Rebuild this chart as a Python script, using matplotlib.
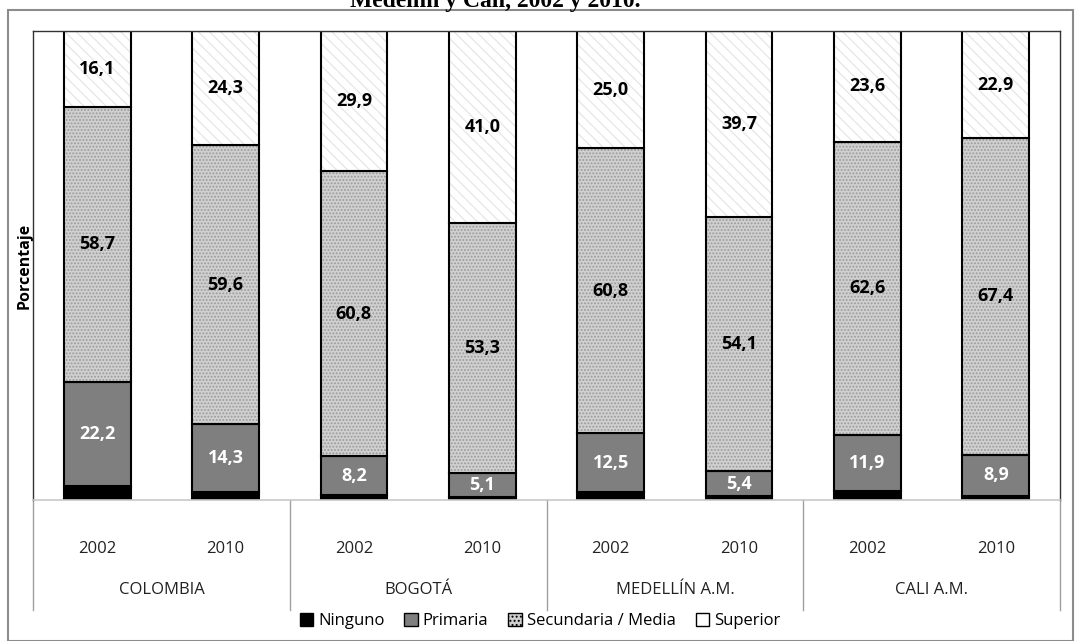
import numpy as np
import matplotlib
matplotlib.use("Agg")
import matplotlib.pyplot as plt
from matplotlib.patches import Rectangle, Patch
from matplotlib.lines import Line2D

groups = ["COLOMBIA", "BOGOTÁ", "MEDELLÍN A.M.", "CALI A.M."]
years = ["2002", "2010"]
ninguno = [3.0, 1.8, 1.1, 0.6, 1.7, 0.8, 1.9, 0.8]
primaria = [22.2, 14.3, 8.2, 5.1, 12.5, 5.4, 11.9, 8.9]
secundaria = [58.7, 59.6, 60.8, 53.3, 60.8, 54.1, 62.6, 67.4]
superior = [16.1, 24.3, 29.9, 41.0, 25.0, 39.7, 23.6, 22.9]
series_names = ["Ninguno", "Primaria", "Secundaria / Media", "Superior"]

plt.rcParams["font.family"] = ["Open Sans", "DejaVu Sans"]
plt.rcParams["hatch.linewidth"] = 0.9

W, H = 1080, 641
fig = plt.figure(figsize=(W / 100, H / 100), dpi=100)
ax = fig.add_axes([33 / W, 1 - 500 / H, (1060 - 33) / W, (500 - 31) / H])

x = np.arange(len(ninguno))
bw = 0.52
bottoms = np.zeros(len(x))
for vals, fc, hatch, hc in [
    (ninguno, "black", None, None),
    (primaria, "#7f7f7f", None, None),
    (secundaria, "#d0d0d0", ".....", "#9a9a9a"),
    (superior, "white", "\\\\\\", "#e6e6e6"),
]:
    vals = np.array(vals)
    if hatch:
        ax.bar(x, vals, bw, bottom=bottoms, color=fc, edgecolor=hc, hatch=hatch, linewidth=0)
        ax.bar(x, vals, bw, bottom=bottoms, fill=False, edgecolor="black", linewidth=1.5)
    else:
        ax.bar(x, vals, bw, bottom=bottoms, color=fc, edgecolor="black", linewidth=1.5)
    bottoms += vals

# data labels
def fmt(v):
    return f"{v:.1f}".replace(".", ",")

base = np.array(ninguno)
for i in x:
    ax.text(i, base[i] + primaria[i] / 2, fmt(primaria[i]),
            ha="center", va="center", color="white", fontsize=13, fontweight="bold")
    b2 = base[i] + primaria[i]
    ax.text(i, b2 + secundaria[i] / 2, fmt(secundaria[i]),
            ha="center", va="center", color="black", fontsize=13, fontweight="bold")
    b3 = b2 + secundaria[i]
    ax.text(i, b3 + superior[i] / 2, fmt(superior[i]),
            ha="center", va="center", color="black", fontsize=13, fontweight="bold")

ax.set_xlim(-0.5, len(x) - 0.5)
ax.set_ylim(0, 100)
ax.set_xticks([])
ax.set_yticks([])
for s in ["left", "top", "right"]:
    ax.spines[s].set_color("#333333")
    ax.spines[s].set_linewidth(1.0)
ax.spines["bottom"].set_color("#c8c8c8")
ax.spines["bottom"].set_linewidth(1.2)

ax.set_ylabel("Porcentaje", fontsize=11.5, fontweight="bold", labelpad=0)

# category axis
tr = ax.get_xaxis_transform()
for i in x:
    ax.text(i, -49 / 469, years[i % 2], transform=tr, ha="center", va="center",
            fontsize=12, color="#222222")
for g, name in enumerate(groups):
    ax.text(2 * g + 0.5, -90 / 469, name, transform=tr, ha="center", va="center",
            fontsize=12, color="#222222")
for k in range(len(groups) + 1):
    ax.add_line(Line2D([2 * k - 0.5, 2 * k - 0.5], [0, -110 / 469], transform=tr,
                       color="#a0a0a0", linewidth=1, clip_on=False))

# legend
handles = [
    Patch(facecolor="black", edgecolor="black"),
    Patch(facecolor="#7f7f7f", edgecolor="black"),
    Patch(facecolor="#d0d0d0", edgecolor="black", hatch="...."),
    Patch(facecolor="white", edgecolor="black"),
]
fig.legend(handles, series_names, loc="center", bbox_to_anchor=(0.5, 1 - 621 / H), ncol=4,
           frameon=False, fontsize=12, handlelength=0.8, handleheight=0.8,
           handletextpad=0.3, columnspacing=1.2)

# outer frame and clipped title
fig.add_artist(Rectangle((8 / W, 0), (1073 - 8) / W, 1 - 10 / H, transform=fig.transFigure,
                         fill=False, edgecolor="#8c8c8c", linewidth=1.5))
fig.text(495 / W, 1 - 7 / H, "Medellín y Cali, 2002 y 2010.", ha="center", va="baseline",
         fontsize=17, fontweight="bold", family=["Liberation Serif", "DejaVu Serif"])

fig.savefig("out.png", dpi=100)
